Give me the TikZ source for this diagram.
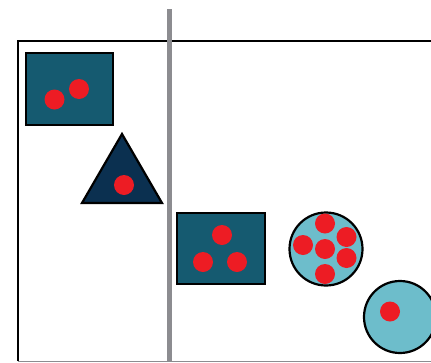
\documentclass[tikz,border=0pt]{standalone}
\usetikzlibrary{shapes.geometric}
\definecolor{teal1}{HTML}{155A70}
\definecolor{navy1}{HTML}{0B3050}
\definecolor{light1}{HTML}{6DBDCB}
\definecolor{red1}{HTML}{ED1C24}
\definecolor{gray1}{HTML}{8C8C90}
\tikzset{
  box/.style={draw=black, line width=2.2pt, fill=teal1},
  ball/.style={circle, fill=red1, inner sep=0pt, minimum size=20pt},
  bigcirc/.style={circle, draw=black, line width=2.2pt, fill=light1, inner sep=0pt, minimum size=72pt},
}
\begin{document}
\begin{tikzpicture}[x=1pt,y=-1pt]
\useasboundingbox (0,0) rectangle (431,362);
% frame
\draw[line width=2pt, black] (18,361) -- (18,41) -- (431,41);
\draw[line width=1pt, gray1] (18,361) -- (431,361);
% divider
\draw[line width=5pt, gray1] (169.5,9) -- (169.5,362);
% rect 1
\draw[box] (26,53) rectangle (113,125);
\node[ball] (a1) at (54.5,99.5) {};
\node[ball] (a2) at (79,89) {};
% triangle
\draw[draw=black, line width=2.2pt, fill=navy1, line join=miter] (122,134) -- (162,203) -- (82,203) -- cycle;
\node[ball] (t1) at (124,185) {};
% rect 2
\draw[box] (177,213) rectangle (265,284);
\node[ball] (b1) at (222,235) {};
\node[ball] (b2) at (203,262) {};
\node[ball] (b3) at (237,262) {};
% circle 1
\node[bigcirc, minimum size=73pt] (c1) at (326,249) {};
\node[ball] (d1) at (325,223.5) {};
\node[ball] (d2) at (303,245) {};
\node[ball] (d3) at (325,249) {};
\node[ball] (d4) at (346.5,237) {};
\node[ball] (d5) at (346.5,258) {};
\node[ball] (d6) at (325,274) {};
% circle 2
\node[bigcirc, minimum size=72pt] (c2) at (400,317) {};
\node[ball] (e1) at (390,311.5) {};
\end{tikzpicture}
\end{document}
